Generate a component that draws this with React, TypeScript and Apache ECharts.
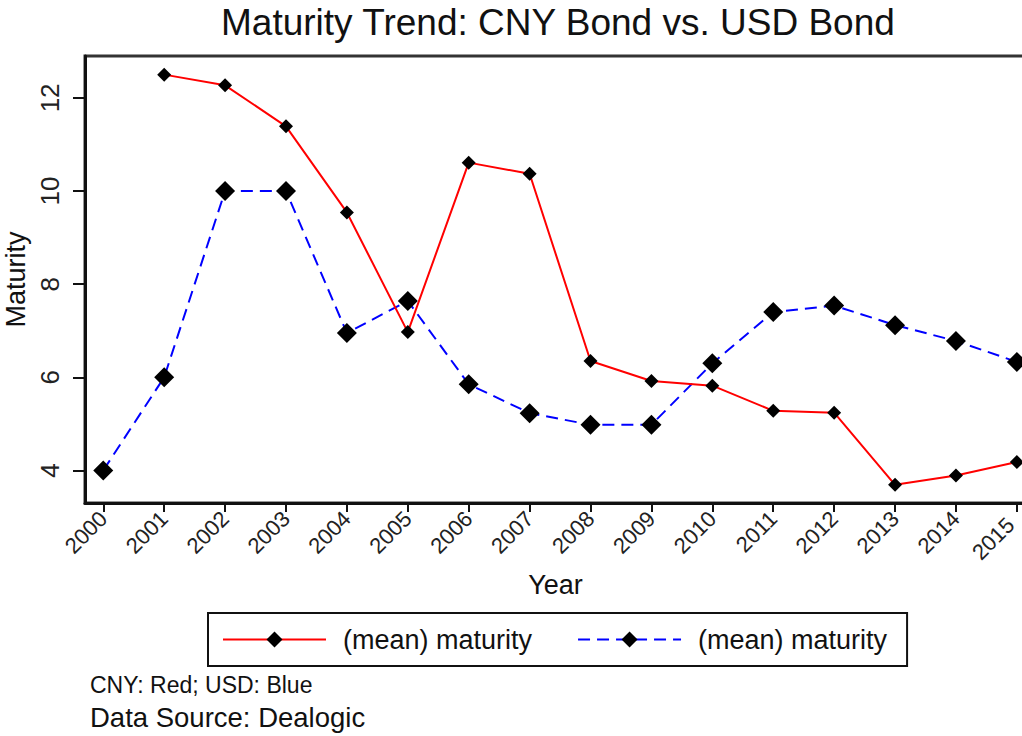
import React, { useEffect, useRef } from "react";
import * as echarts from "echarts";

const years = [2000, 2001, 2002, 2003, 2004, 2005, 2006, 2007, 2008, 2009, 2010, 2011, 2012, 2013, 2014, 2015];
const cnyMaturity: (number | null)[] = [null, 12.5, 12.27, 11.39, 9.54, 6.97, 10.61, 10.37, 6.35, 5.92, 5.82, 5.28, 5.24, 3.69, 3.89, 4.18];
const usdMaturity: (number | null)[] = [4.0, 6.0, 10.0, 10.0, 6.95, 7.64, 5.85, 5.23, 4.98, 4.98, 6.3, 7.4, 7.54, 7.12, 6.78, 6.33];
const yTicks = [4, 6, 8, 10, 12];
const seriesNames = ["CNY", "USD"];
const legendLabel = "(mean) maturity";
const titleText = "Maturity Trend: CNY Bond vs. USD Bond";
const xName = "Year";
const yName = "Maturity";
const noteLine = "CNY: Red; USD: Blue";
const sourceLine = "Data Source: Dealogic";

const FONT = "'Liberation Sans', Arial, Helvetica, sans-serif";

export default function App() {
  const ref = useRef<HTMLDivElement>(null);
  useEffect(() => {
    document.body.style.margin = "0";
    const chart = echarts.init(ref.current!, null, { renderer: "svg" });
    const toPairs = (vals: (number | null)[]) =>
      years.map((y, i) => [y, vals[i]]).filter((p) => p[1] !== null);
    const lastYear = years[years.length - 1];
    chart.setOption({
      animation: false,
      backgroundColor: "#ffffff",
      textStyle: { fontFamily: FONT },
      title: {
        text: titleText,
        left: 221,
        top: 4,
        padding: 0,
        textStyle: { fontFamily: FONT, fontSize: 37, fontWeight: "normal", color: "#111" },
      },
      grid: {
        left: 85,
        top: 56,
        right: -4,
        bottom: 233,
        show: true,
        borderColor: "#333",
        borderWidth: 3,
        containLabel: false,
        outerBoundsMode: "none",
      },
      legend: {
        left: 208,
        top: 613,
        orient: "horizontal",
        data: seriesNames,
        formatter: () => legendLabel,
        itemWidth: 103,
        itemHeight: 20,
        itemGap: 45,
        borderColor: "#111",
        borderWidth: 2,
        padding: [13, 20, 13, 14],
        selectedMode: false,
        textStyle: { fontFamily: FONT, fontSize: 27, color: "#111", padding: [0, 0, 0, 12] },
      },
      xAxis: {
        type: "value",
        min: 1999.7,
        max: 2015.15,
        name: xName,
        nameLocation: "middle",
        nameGap: 68,
        nameTextStyle: { fontFamily: FONT, fontSize: 27, color: "#111" },
        splitLine: { show: false },
        axisLine: { show: true, onZero: false, lineStyle: { color: "#111", width: 3 } },
        axisTick: { show: true, length: 9, lineStyle: { color: "#111", width: 2 }, customValues: years },
        axisLabel: {
          customValues: years,
          rotate: 45,
          margin: 12,
          fontFamily: FONT,
          fontSize: 22,
          color: "#222",
          formatter: (v: number) => (v === lastYear ? `{e|${v}}` : String(v)),
          rich: {
            e: { fontFamily: FONT, fontSize: 22, color: "#222", padding: [0, 9, 0, 0] },
          },
        },
      },
      yAxis: {
        type: "value",
        min: 3.3,
        max: 12.9,
        name: yName,
        nameLocation: "middle",
        nameGap: 44,
        nameRotate: 90,
        nameTextStyle: { fontFamily: FONT, fontSize: 27, color: "#111" },
        splitLine: { show: false },
        axisLine: { show: true, onZero: false, lineStyle: { color: "#111", width: 3 } },
        axisTick: { show: true, length: 12, lineStyle: { color: "#111", width: 2 }, customValues: yTicks },
        axisLabel: {
          customValues: yTicks,
          rotate: 90,
          margin: 22,
          fontFamily: FONT,
          fontSize: 26,
          color: "#222",
        },
      },
      series: [
        {
          name: seriesNames[0],
          type: "line",
          data: toPairs(cnyMaturity),
          symbol: "diamond",
          symbolSize: 14,
          lineStyle: { color: "#ff0000", width: 2, type: "solid" },
          itemStyle: { color: "#000000" },
          z: 3,
        },
        {
          name: seriesNames[1],
          type: "line",
          data: toPairs(usdMaturity),
          symbol: "diamond",
          symbolSize: 20,
          lineStyle: { color: "#0000ff", width: 2, type: [12, 7] },
          itemStyle: { color: "#000000" },
          z: 2,
        },
      ],
      graphic: [
        {
          type: "text",
          left: 90,
          top: 673,
          style: { text: noteLine, fontFamily: FONT, fontSize: 23, fill: "#111" },
        },
        {
          type: "text",
          left: 90,
          top: 703,
          style: { text: sourceLine, fontFamily: FONT, fontSize: 27.5, fill: "#111" },
        },
      ],
    });
    return () => chart.dispose();
  }, []);
  return (
    <div
      ref={ref}
      style={{ position: "absolute", left: 0, top: 0, width: 1022, height: 736 }}
    />
  );
}
